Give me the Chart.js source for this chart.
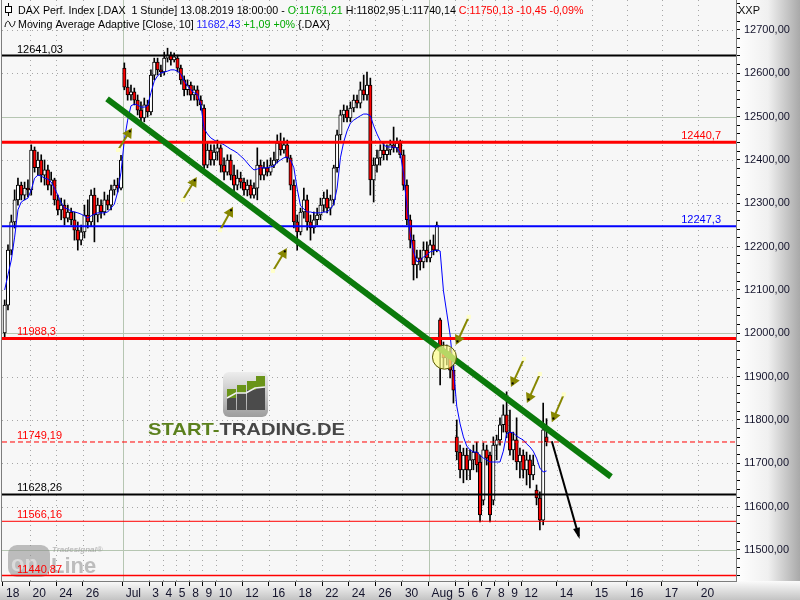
<!DOCTYPE html>
<html>
<head>
<meta charset="utf-8">
<title>DAX Perf. Index - 1 Stunde</title>
<style>
  html, body { margin: 0; padding: 0; background: #ffffff; }
  #chart-container { width: 800px; height: 600px; }
</style>
</head>
<body>
<div id="chart-container"><canvas id="daxChart" width="800" height="600"></canvas></div>
<script src="https://cdn.jsdelivr.net/npm/chart.js"></script>
<script>
// Hourly candles, four slots per trading day, 18.06.2019 - 13.08.2019 (one row per day)
const candleOpen = [
  12001, 12065, 12192, 12257,  12308, 12342, 12319, 12335,  12331, 12423, 12382, 12400,
  12365, 12377, 12342, 12354,  12308, 12285, 12296, 12266,  12280, 12262, 12238, 12215,
  12234, 12273, 12257, 12319,  12273, 12296, 12280, 12308,  12296, 12331, 12342, 12335,
  12612, 12568, 12550, 12557,  12538, 12515, 12497, 12527,  12511, 12596, 12626, 12608,
  12603, 12635, 12642, 12631,  12635, 12612, 12585, 12562,  12573, 12550, 12562, 12538,
  12520, 12388, 12423, 12400,  12418, 12428, 12388, 12372,  12400, 12365, 12342, 12358,
  12349, 12331, 12342, 12319,  12335, 12388, 12365, 12382,  12372, 12388, 12400, 12439,
  12423, 12435, 12405, 12342,  12257, 12234, 12280, 12308,  12257, 12243, 12262, 12273,
  12296, 12312, 12289, 12308,  12382, 12458, 12504, 12515,  12497, 12520, 12538, 12531,
  12562, 12550, 12573, 12354,  12388, 12405, 12423, 12412,  12423, 12435, 12428, 12439,
  12412, 12342, 12262, 12215,  12158, 12174, 12165, 12192,  12174, 12204, 12192, 12031,
  11962, 11943, 11957, 11915,  11761, 11726, 11685, 11719,  11685, 11708, 11726, 11703,
  11615, 11731, 11719, 11615,  11742, 11754, 11789, 11812,  11772, 11731, 11754, 11703,
  11719, 11685, 11708, 11673,  11638, 11620, 11569, 11761.21
];
const candleHigh = [
  12077, 12204, 12273, 12331,  12358, 12349, 12349, 12354,  12435, 12430, 12418, 12412,
  12400, 12388, 12372, 12358,  12319, 12312, 12308, 12296,  12289, 12280, 12257, 12250,
  12296, 12308, 12331, 12335,  12312, 12308, 12326, 12319,  12342, 12354, 12358, 12411,
  12624, 12585, 12573, 12566,  12550, 12534, 12543, 12538,  12608, 12635, 12635, 12619,
  12649, 12658, 12649, 12647,  12642, 12619, 12594, 12585,  12580, 12571, 12571, 12548,
  12527, 12439, 12435, 12435,  12446, 12435, 12405, 12412,  12412, 12388, 12377, 12372,
  12358, 12354, 12354, 12347,  12428, 12400, 12395, 12400,  12405, 12418, 12458, 12462,
  12451, 12446, 12411, 12354,  12273, 12289, 12335, 12319,  12273, 12280, 12289, 12312,
  12326, 12331, 12319, 12388,  12469, 12515, 12527, 12525,  12534, 12550, 12550, 12580,
  12596, 12603, 12589, 12405,  12423, 12435, 12441, 12435,  12446, 12476, 12451, 12446,
  12423, 12354, 12273, 12227,  12192, 12192, 12211, 12211,  12215, 12227, 12257, 12035,
  11980, 11973, 11966, 11927,  11800, 11742, 11735, 11735,  11731, 11742, 11749, 11719,
  11747, 11742, 11726, 11761,  11765, 11805, 11835, 11865,  11823, 11772, 11805, 11735,
  11731, 11726, 11719, 11719,  11650, 11634, 11839, 11802.95
];
const candleLow = [
  11992, 12054, 12181, 12243,  12296, 12308, 12308, 12315,  12319, 12372, 12365, 12349,
  12342, 12331, 12319, 12296,  12273, 12262, 12250, 12257,  12250, 12215, 12192, 12204,
  12220, 12243, 12248, 12211,  12257, 12266, 12273, 12285,  12285, 12319, 12326, 12331,
  12562, 12538, 12538, 12527,  12504, 12488, 12488, 12499,  12504, 12585, 12596, 12592,
  12596, 12626, 12619, 12626,  12603, 12575, 12548, 12550,  12538, 12538, 12525, 12515,
  12377, 12382, 12388, 12388,  12400, 12372, 12354, 12365,  12354, 12326, 12331, 12335,
  12319, 12317, 12312, 12312,  12308, 12354, 12354, 12363,  12365, 12382, 12393, 12411,
  12416, 12395, 12331, 12243,  12192, 12227, 12266, 12238,  12215, 12231, 12250, 12262,
  12280, 12278, 12273, 12296,  12372, 12446, 12488, 12488,  12488, 12511, 12520, 12520,
  12538, 12538, 12319, 12303,  12372, 12388, 12400, 12400,  12412, 12418, 12418, 12405,
  12331, 12250, 12197, 12123,  12128, 12146, 12151, 12165,  12165, 12181, 12188, 11881,
  11920, 11927, 11897, 11839,  11708, 11666, 11655, 11662,  11662, 11685, 11680, 11565,
  11604, 11696, 11565, 11604,  11708, 11742, 11772, 11759,  11719, 11708, 11685, 11666,
  11666, 11650, 11643, 11662,  11604, 11546, 11558, 11740.14
];
const candleClose = [
  12065, 12192, 12257, 12308,  12342, 12319, 12335, 12331,  12423, 12382, 12400, 12365,
  12377, 12342, 12354, 12308,  12285, 12296, 12266, 12280,  12262, 12238, 12215, 12234,
  12273, 12257, 12319, 12273,  12296, 12280, 12308, 12296,  12331, 12342, 12335, 12400,
  12568, 12550, 12557, 12538,  12515, 12497, 12527, 12511,  12596, 12626, 12608, 12603,
  12635, 12642, 12631, 12638,  12612, 12585, 12562, 12573,  12550, 12562, 12538, 12527,
  12388, 12423, 12400, 12418,  12428, 12388, 12372, 12400,  12365, 12342, 12358, 12349,
  12331, 12342, 12319, 12335,  12388, 12365, 12382, 12372,  12388, 12400, 12439, 12423,
  12435, 12405, 12342, 12257,  12234, 12280, 12308, 12257,  12243, 12262, 12273, 12296,
  12312, 12289, 12308, 12382,  12458, 12504, 12515, 12497,  12520, 12538, 12531, 12562,
  12550, 12573, 12354, 12388,  12405, 12423, 12412, 12423,  12435, 12428, 12439, 12412,
  12342, 12262, 12215, 12158,  12174, 12165, 12192, 12174,  12204, 12192, 12250, 11962,
  11943, 11957, 11915, 11869,  11726, 11685, 11719, 11685,  11708, 11726, 11696, 11581,
  11731, 11712, 11581, 11742,  11754, 11789, 11812, 11772,  11731, 11754, 11703, 11719,
  11685, 11708, 11673, 11696,  11620, 11569, 11777, 11750.13
];
// Moving Average Adaptive [Close, 10]
const maValues = [
  12100, 12135, 12169, 12222,  12285, 12303, 12308, 12312,  12331, 12358, 12365, 12363,
  12358, 12356, 12349, 12335,  12319, 12301, 12289, 12287,  12282, 12280, 12278, 12275,
  12271, 12266, 12271, 12275,  12278, 12278, 12278, 12280,  12289, 12298, 12326, 12372,
  12446, 12492, 12525, 12529,  12527, 12522, 12522, 12525,  12555, 12582, 12594, 12601,
  12603, 12605, 12608, 12608,  12605, 12598, 12582, 12571,  12562, 12555, 12552, 12529,
  12472, 12460, 12451, 12446,  12442, 12439, 12435, 12430,  12425, 12421, 12416, 12409,
  12402, 12393, 12384, 12377,  12379, 12382, 12382, 12382,  12384, 12386, 12395, 12400,
  12405, 12407, 12400, 12382,  12333, 12294, 12287, 12280,  12280, 12278, 12278, 12278,
  12280, 12280, 12287, 12298,  12335, 12405, 12442, 12467,  12485, 12492, 12497, 12502,
  12506, 12506, 12502, 12479,  12460, 12444, 12435, 12430,  12430, 12430, 12428, 12416,
  12368, 12292, 12229, 12188,  12165, 12169, 12176, 12181,  12188, 12190, 12192, 12190,
  12098, 12047, 11996, 11918,  11832, 11791, 11761, 11740,  11731, 11726, 11726, 11719,
  11712, 11708, 11703, 11703,  11703, 11703, 11728, 11768,  11772, 11770, 11763, 11758,
  11754, 11745, 11738, 11728,  11712, 11689, 11680, 11682.43
];

// time axis: slot positions of the date labels (day start = 4 * day - 0.5)
const xTickPos = [-0.5, 7.5, 15.5, 23.5, 35.5, 43.5, 47.5, 51.5, 55.5, 59.5, 63.5, 71.5, 79.5,
  87.5, 95.5, 103.5, 111.5, 119.5, 127.5, 135.5, 139.5, 143.5, 147.5, 151.5, 155.5,
  166.1, 176.6, 187.2, 197.7, 208.5];
const xTickLabels = ['18', '20', '24', '26', 'Jul', '3', '4', '5', '8', '9', '10', '12', '16',
  '18', '22', '24', '26', '30', 'Aug', '5', '6', '7', '8', '9', '12',
  '14', '15', '16', '17', '20'];
const monthLabels = ['Jul', 'Aug'];

// horizontal levels
const levelValues = [12641.03, 12440.7, 12247.3, 11988.3, 11749.19, 11628.26, 11566.16, 11440.87];
const levelColors = ['#000000', '#ff0000', '#0000ff', '#ff0000', '#ff0000', '#000000', '#ff0000', '#ff0000'];
const levelWidths = [2, 3, 2, 3, 1, 2, 1, 1.5];
const levelDash = [[], [], [], [], [5, 3], [], [], []];
const levelLabelSide = ['left', 'right', 'right', 'left', 'left', 'left', 'left', 'left'];

// drawn trend line and forecast arrow, [slot, value]
const trendLine = [[30.8, 12541], [182.4, 11669]];
const forecastArrow = [[164.6, 11751], [172.7, 11532]];
// small olive arrows: [tailSlot, tailValue, headSlot, headValue]
const touchArrows = [
  [34.1, 12423, 38.3, 12474],
  [53.6, 12308, 57.8, 12361],
  [64.8, 12238, 68.7, 12292],
  [80.7, 12144, 84.9, 12197],
  [139.6, 12038, 135.7, 11973],
  [156.2, 11941, 152.3, 11876],
  [161.0, 11906, 157.1, 11839],
  [168.2, 11859, 164.6, 11795]
];
const breakCircle = [132.3, 11945];

const X_MIN = -0.8, X_MAX = 220;
const Y_MIN = 11428.4, Y_MAX = 12769.2;
const FONT = "'Liberation Sans', Arial, sans-serif";

Chart.defaults.font.family = FONT;

function valueText(v) {
  return v.toFixed(2).replace('.', ',');
}

function roundRect(ctx, x, y, w, h, r) {
  ctx.beginPath();
  ctx.moveTo(x + r, y);
  ctx.arcTo(x + w, y, x + w, y + h, r);
  ctx.arcTo(x + w, y + h, x, y + h, r);
  ctx.arcTo(x, y + h, x, y, r);
  ctx.arcTo(x, y, x + w, y, r);
  ctx.closePath();
}

function drawStartTradingLogo(ctx) {
  ctx.save();
  const g = ctx.createLinearGradient(0, 372, 0, 417);
  g.addColorStop(0, '#ededed');
  g.addColorStop(1, '#9d9d9d');
  roundRect(ctx, 223, 372, 45, 45, 6);
  ctx.fillStyle = g;
  ctx.fill();
  // four bars of the icon: left, top of green, top of grey
  const bars = [[227, 389, 398], [237, 385, 393], [247, 381, 390], [256, 376, 387]];
  bars.forEach(([bx, gTop, dTop]) => {
    ctx.fillStyle = '#6a9419';
    ctx.fillRect(bx, gTop, 9, dTop - gTop);
    ctx.fillStyle = '#4b4b4b';
    ctx.fillRect(bx, dTop, 9, 410 - dTop);
  });
  ctx.strokeStyle = '#f0f0f0';
  ctx.lineWidth = 1.5;
  ctx.beginPath();
  ctx.moveTo(227, 398); ctx.lineTo(236, 393); ctx.lineTo(246, 393);
  ctx.lineTo(255, 388); ctx.lineTo(265, 387);
  ctx.stroke();

  ctx.font = 'bold 17px ' + FONT;
  const a = 'START-', b = 'TRADING.DE';
  const wa = ctx.measureText(a).width, wb = ctx.measureText(b).width;
  const k = 197 / (wa + wb);
  ctx.translate(148, 435);
  ctx.scale(k, 1);
  ctx.fillStyle = '#5b801d';
  ctx.fillText(a, 0, 0);
  ctx.fillStyle = '#464646';
  ctx.fillText(b, wa, 0);
  ctx.restore();
}

function drawOnlineLogo(ctx) {
  ctx.save();
  ctx.globalAlpha = 0.55;
  roundRect(ctx, 8, 545, 42, 32, 9);
  ctx.fillStyle = '#8c8c8c';
  ctx.fill();
  ctx.font = 'bold 22px ' + FONT;
  ctx.fillStyle = '#f4f4f4';
  ctx.fillText('on', 11, 571);
  ctx.fillStyle = '#8c8c8c';
  ctx.fillText('Line', 51, 573);
  ctx.font = 'italic bold 8px ' + FONT;
  ctx.fillText('Tradesignal\u00ae', 52, 552);
  ctx.restore();
}

function drawOliveArrow(ctx, x0, y0, x1, y1) {
  const ang = Math.atan2(y1 - y0, x1 - x0);
  const head = 11;
  ctx.strokeStyle = '#878700';
  ctx.fillStyle = '#878700';
  ctx.lineWidth = 2;
  ctx.beginPath();
  ctx.moveTo(x0, y0);
  ctx.lineTo(x1 - head * 0.7 * Math.cos(ang), y1 - head * 0.7 * Math.sin(ang));
  ctx.stroke();
  ctx.beginPath();
  ctx.moveTo(x1, y1);
  ctx.lineTo(x1 - head * Math.cos(ang - 0.5), y1 - head * Math.sin(ang - 0.5));
  ctx.lineTo(x1 - head * Math.cos(ang + 0.5), y1 - head * Math.sin(ang + 0.5));
  ctx.closePath();
  ctx.fill();
  ctx.fillStyle = '#000';
  ctx.fillRect(x1 - 4 * Math.cos(ang) - 1, y1 - 4 * Math.sin(ang) - 1, 2, 2);
  ctx.fillStyle = '#ffffc8';
  ctx.fillRect(x0 - 2, y0 - 2, 4, 4);
}

const backdrop = {
  id: 'backdrop',
  beforeDraw(chart) {
    const {ctx, chartArea: a, width, height} = chart;
    ctx.save();
    ctx.fillStyle = '#f7f7f7';
    ctx.fillRect(0, 0, width, height);
    let g = ctx.createLinearGradient(a.right, 0, width, 0);
    g.addColorStop(0, '#ffffff');
    g.addColorStop(0.5, '#f0f0f0');
    g.addColorStop(1, '#a9a9a9');
    ctx.fillStyle = g;
    ctx.fillRect(a.right, 0, width - a.right, a.bottom);
    g = ctx.createLinearGradient(0, a.bottom, 0, height);
    g.addColorStop(0, '#fbfbfb');
    g.addColorStop(1, '#c3c3c3');
    ctx.fillStyle = g;
    ctx.fillRect(0, a.bottom, width, height - a.bottom);
    ctx.restore();
  }
};

const gridLayer = {
  id: 'gridLayer',
  beforeDatasetsDraw(chart) {
    const {ctx, chartArea: a, scales: {x, y}} = chart;
    ctx.save();
    ctx.lineWidth = 1;
    xTickPos.forEach((p, i) => {
      if (i === 0) return;
      const px = Math.round(x.getPixelForValue(p)) + 0.5;
      const solid = monthLabels.includes(xTickLabels[i]);
      ctx.strokeStyle = solid ? '#b6c6b2' : '#a6a6a6';
      ctx.setLineDash(solid ? [] : [1, 4]);
      ctx.beginPath();
      ctx.moveTo(px, a.top);
      ctx.lineTo(px, a.bottom);
      ctx.stroke();
    });
    y.ticks.forEach(t => {
      if (Math.abs(t.value % 100) > 0.01) return;
      const py = Math.round(y.getPixelForValue(t.value)) + 0.5;
      const solid = Math.abs(t.value % 500) < 0.01;
      ctx.strokeStyle = solid ? '#b6c6b2' : '#a6a6a6';
      ctx.setLineDash(solid ? [] : [1, 4]);
      ctx.beginPath();
      ctx.moveTo(a.left, py);
      ctx.lineTo(a.right, py);
      ctx.stroke();
    });
    ctx.setLineDash([]);
    drawStartTradingLogo(ctx);
    drawOnlineLogo(ctx);
    ctx.restore();
  }
};

const overlay = {
  id: 'overlay',
  afterDatasetsDraw(chart) {
    const {ctx, chartArea: a, scales: {x, y}} = chart;
    ctx.save();
    // level labels
    ctx.font = '11px ' + FONT;
    levelValues.forEach((v, i) => {
      const py = y.getPixelForValue(v) - 3;
      ctx.fillStyle = levelColors[i];
      const txt = String(v).replace('.', ',');
      if (levelLabelSide[i] === 'left') {
        ctx.textAlign = 'left';
        ctx.fillText(txt, 17, py);
      } else {
        ctx.textAlign = 'right';
        ctx.fillText(txt, 721, py);
      }
    });
    ctx.textAlign = 'left';
    // yellow circle at the break
    ctx.beginPath();
    ctx.arc(x.getPixelForValue(breakCircle[0]), y.getPixelForValue(breakCircle[1]), 12, 0, Math.PI * 2);
    ctx.fillStyle = 'rgba(255, 255, 140, 0.7)';
    ctx.fill();
    ctx.strokeStyle = '#555500';
    ctx.lineWidth = 1;
    ctx.stroke();
    // olive touch arrows
    touchArrows.forEach(([ts, tv, hs, hv]) => {
      drawOliveArrow(ctx, x.getPixelForValue(ts), y.getPixelForValue(tv),
        x.getPixelForValue(hs), y.getPixelForValue(hv));
    });
    // head of the forecast arrow
    const x0 = x.getPixelForValue(forecastArrow[0][0]), y0 = y.getPixelForValue(forecastArrow[0][1]);
    const x1 = x.getPixelForValue(forecastArrow[1][0]), y1 = y.getPixelForValue(forecastArrow[1][1]);
    const ang = Math.atan2(y1 - y0, x1 - x0);
    ctx.fillStyle = '#000';
    ctx.beginPath();
    ctx.moveTo(x1 + 3 * Math.cos(ang), y1 + 3 * Math.sin(ang));
    ctx.lineTo(x1 - 9 * Math.cos(ang - 0.4), y1 - 9 * Math.sin(ang - 0.4));
    ctx.lineTo(x1 - 9 * Math.cos(ang + 0.4), y1 - 9 * Math.sin(ang + 0.4));
    ctx.closePath();
    ctx.fill();
    // plot frame
    ctx.strokeStyle = '#7d7d7d';
    ctx.lineWidth = 1;
    ctx.strokeRect(a.left - 0.5, a.top - 0.5, a.right - a.left + 1, a.bottom - a.top + 1);
    ctx.restore();
  },
  afterDraw(chart) {
    const {ctx} = chart;
    const last = candleClose.length - 1;
    ctx.save();
    ctx.font = '10.7px ' + FONT;
    ctx.textBaseline = 'alphabetic';
    const line1 = [
      ['DAX Perf. Index [.DAX  1 Stunde] 13.08.2019 18:00:00 - ', '#000000'],
      ['O:' + valueText(candleOpen[last]), '#00aa00'],
      [' H:' + valueText(candleHigh[last]) + ' L:' + valueText(candleLow[last]) + ' ', '#000000'],
      ['C:' + valueText(candleClose[last]) + ' -10,45 -0,09%', '#ff0000']
    ];
    const line2 = [
      ['Moving Average Adaptive [Close, 10] ', '#000000'],
      [valueText(maValues[last]), '#2222ff'],
      [' +1,09 +0%', '#00aa00'],
      [' {.DAX}', '#000000']
    ];
    [[line1, 14], [line2, 28]].forEach(([pieces, by]) => {
      let px = 18;
      pieces.forEach(([t, c]) => {
        ctx.fillStyle = c;
        ctx.fillText(t, px, by);
        px += ctx.measureText(t).width;
      });
    });
    // candle glyph
    ctx.strokeStyle = '#000';
    ctx.lineWidth = 1;
    ctx.beginPath();
    ctx.moveTo(8.5, 3); ctx.lineTo(8.5, 16);
    ctx.stroke();
    ctx.fillStyle = '#fff';
    ctx.fillRect(5.5, 6.5, 6, 6);
    ctx.strokeRect(5.5, 6.5, 6, 6);
    // wave glyph
    ctx.beginPath();
    ctx.moveTo(5, 27);
    ctx.bezierCurveTo(6, 20, 9, 20, 10, 24);
    ctx.bezierCurveTo(11, 28, 14, 28, 15, 21);
    ctx.stroke();
    // price axis caption
    ctx.font = '11px ' + FONT;
    ctx.fillStyle = '#111';
    ctx.fillText('XXP', 738, 14);
    ctx.restore();
  }
};

const ctx = document.getElementById('daxChart').getContext('2d');
const daxChart = new Chart(ctx, {
  type: 'bar',
  data: {
    datasets: [
      {
        type: 'line',
        label: 'Trend',
        data: trendLine.map(p => ({x: p[0], y: p[1]})),
        borderColor: '#0b7a0b',
        borderWidth: 6,
        pointRadius: 0,
        order: 2
      },
      {
        type: 'line',
        label: 'Forecast',
        data: forecastArrow.map(p => ({x: p[0], y: p[1]})),
        borderColor: '#000000',
        borderWidth: 2,
        pointRadius: 0,
        order: 1
      },
      ...levelValues.map((v, i) => ({
        type: 'line',
        label: 'Level ' + v,
        data: [{x: X_MIN, y: v}, {x: X_MAX, y: v}],
        borderColor: levelColors[i],
        borderWidth: levelWidths[i],
        borderDash: levelDash[i],
        pointRadius: 0,
        order: 4
      })),
      {
        type: 'line',
        label: 'Moving Average Adaptive',
        data: maValues.map((v, i) => ({x: i, y: v})),
        borderColor: '#0000ff',
        borderWidth: 1,
        pointRadius: 0,
        tension: 0,
        order: 5
      },
      {
        label: 'Body',
        data: candleOpen.map((o, i) => ({x: i, y: [o, candleClose[i]]})),
        backgroundColor: c => {
          const i = c.dataIndex;
          return candleClose[i] < candleOpen[i] ? '#ff0000' : '#ffffff';
        },
        borderColor: '#000000',
        borderWidth: 1,
        borderSkipped: false,
        barThickness: 3.4,
        grouped: false,
        order: 10
      },
      {
        label: 'Wick',
        data: candleLow.map((l, i) => ({x: i, y: [l, candleHigh[i]]})),
        backgroundColor: '#000000',
        borderWidth: 0,
        barThickness: 1,
        grouped: false,
        order: 11
      }
    ]
  },
  options: {
    responsive: false,
    animation: false,
    layout: {padding: {left: 2, top: 0, right: 0, bottom: 0}},
    plugins: {
      legend: {display: false},
      tooltip: {enabled: false},
      title: {display: false}
    },
    scales: {
      x: {
        type: 'linear',
        position: 'bottom',
        min: X_MIN,
        max: X_MAX,
        offset: false,
        grid: {drawOnChartArea: false, drawTicks: true, tickLength: 5, tickColor: '#000', offset: false},
        border: {display: false},
        afterBuildTicks: scale => {
          scale.ticks = xTickPos.map(v => ({value: v}));
        },
        afterFit: scale => {
          scale.height = 19;
          scale.paddingLeft = 0;
          scale.paddingRight = 0;
        },
        ticks: {
          autoSkip: false,
          maxRotation: 0,
          minRotation: 0,
          align: 'start',
          labelOffset: 3,
          padding: 0,
          color: '#14142c',
          font: {size: 12},
          callback: (v, i) => xTickLabels[i]
        }
      },
      y: {
        type: 'linear',
        position: 'right',
        min: Y_MIN,
        max: Y_MAX,
        beginAtZero: false,
        grid: {drawOnChartArea: false, drawTicks: true, tickLength: 4, tickColor: '#000'},
        border: {display: false},
        afterFit: scale => {
          scale.width = 64;
          scale.paddingTop = 0;
          scale.paddingBottom = 0;
        },
        ticks: {
          stepSize: 20,
          includeBounds: false,
          autoSkip: false,
          padding: 4,
          color: '#14142c',
          font: {size: 11},
          callback: v => (Math.abs(v % 100) < 0.01 ? valueText(v) : '')
        }
      }
    }
  },
  plugins: [backdrop, gridLayer, overlay]
});
</script>
</body>
</html>
